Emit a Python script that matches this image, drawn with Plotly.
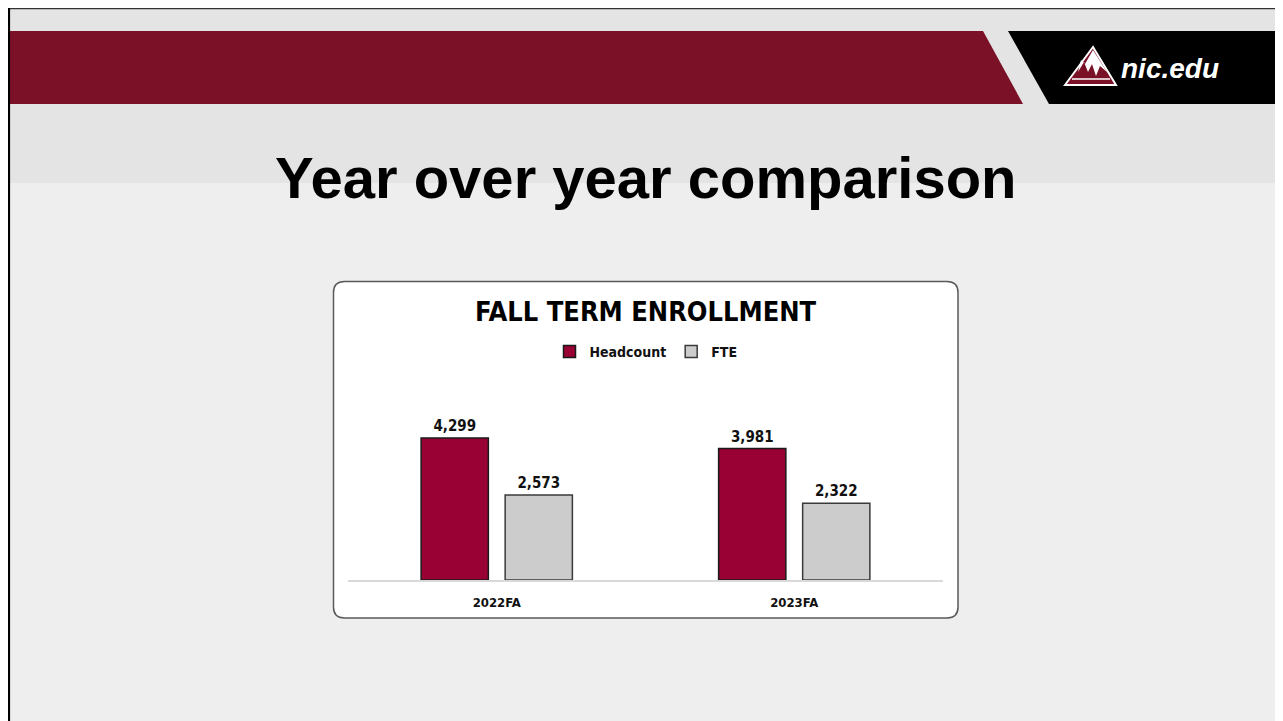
import plotly.graph_objects as go

# ---- data ----
categories = ["2022FA", "2023FA"]
headcount = [4299, 3981]
fte = [2573, 2322]
series_names = ["Headcount", "FTE"]
slide_title = "Year over year comparison"
chart_title = "FALL TERM ENROLLMENT"
logo_text = "nic.edu"

# the page body has an 8px margin: the figure starts at (8, 8) in the window
OFF = 8
W, H = 1283 - OFF, 721 - OFF
NARROW = "DejaVu Sans Condensed, Liberation Sans Narrow, Arial Narrow, Roboto, sans-serif"
ARIAL = "Liberation Sans, Arial, sans-serif"


def px(x):
    return (x - OFF) / W


def py(y):
    return 1 - (y - OFF) / H


def path(points, close=True):
    s = "M " + " L ".join(f"{px(x):.5f},{py(y):.5f}" for x, y in points)
    return s + (" Z" if close else "")


def rounded_rect(x0, y0, x1, y1, r):
    p = lambda x, y: f"{px(x):.5f},{py(y):.5f}"
    return (f"M {p(x0 + r, y0)} L {p(x1 - r, y0)} Q {p(x1, y0)} {p(x1, y0 + r)} "
            f"L {p(x1, y1 - r)} Q {p(x1, y1)} {p(x1 - r, y1)} "
            f"L {p(x0 + r, y1)} Q {p(x0, y1)} {p(x0, y1 - r)} "
            f"L {p(x0, y0 + r)} Q {p(x0, y0)} {p(x0 + r, y0)} Z")


fig = go.Figure()
fig.add_trace(go.Bar(
    name=f"<b>{series_names[0]}</b>", x=categories, y=headcount,
    marker=dict(color="#990033", line=dict(color="#1a1a1a", width=1.5)),
    texttemplate="<b>%{y:,}</b>", textposition="outside", cliponaxis=False,
    textfont=dict(family=NARROW, size=15, color="#111111"),
))
fig.add_trace(go.Bar(
    name=f"<b>{series_names[1]}</b>", x=categories, y=fte,
    marker=dict(color="#cccccc", line=dict(color="#3a3a3a", width=1.5)),
    texttemplate="<b>%{y:,}</b>", textposition="outside", cliponaxis=False,
    textfont=dict(family=NARROW, size=15, color="#111111"),
))

shapes = []
# slide backgrounds
shapes.append(dict(type="rect", xref="paper", yref="paper", x0=0, x1=1, y0=0, y1=1,
                   fillcolor="#eeeeee", line=dict(width=0), layer="below"))
shapes.append(dict(type="rect", xref="paper", yref="paper", x0=0, x1=1, y0=py(183), y1=1,
                   fillcolor="#e4e4e4", line=dict(width=0), layer="below"))
# red band
shapes.append(dict(type="path", xref="paper", yref="paper",
                   path=path([(8, 31), (983, 31), (1023, 104), (8, 104)]),
                   fillcolor="#7a1126", line=dict(width=0), layer="below"))
# black band
shapes.append(dict(type="path", xref="paper", yref="paper",
                   path=path([(1008, 31), (1283, 31), (1283, 104), (1049, 104)]),
                   fillcolor="#000000", line=dict(width=0), layer="below"))
# slide borders
shapes.append(dict(type="line", xref="paper", yref="paper", x0=0, x1=1, y0=py(8.6), y1=py(8.6),
                   line=dict(color="#333333", width=1.2), layer="below"))
shapes.append(dict(type="line", xref="paper", yref="paper", x0=px(9), x1=px(9), y0=1, y1=0,
                   line=dict(color="#000000", width=2.2), layer="below"))
# logo icon
shapes.append(dict(type="path", xref="paper", yref="paper",
                   path=path([(1065, 85), (1093, 47), (1116, 85)]),
                   fillcolor="#7a1126", line=dict(color="white", width=2), layer="above"))
shapes.append(dict(type="path", xref="paper", yref="paper",
                   path=path([(1093, 50), (1107, 72), (1100, 66), (1096, 76), (1092, 64),
                              (1088, 72), (1084, 62), (1078, 72), (1081, 60), (1085, 64)]),
                   fillcolor="white", line=dict(width=0), layer="above"))
shapes.append(dict(type="line", xref="paper", yref="paper", x0=px(1072), x1=px(1110),
                   y0=py(79), y1=py(79), line=dict(color="white", width=1.5), layer="above"))
# chart box
shapes.append(dict(type="path", xref="paper", yref="paper",
                   path=rounded_rect(333.5, 281.5, 958, 618, 11),
                   fillcolor="white", line=dict(color="#5a5a5a", width=1.5), layer="below"))

annotations = [
    dict(text=f"<b>{slide_title}</b>", xref="paper", yref="paper", x=px(646), y=py(177),
         xanchor="center", yanchor="middle", showarrow=False,
         font=dict(family=ARIAL, size=58, color="#000000")),
    dict(text=f"<b>{chart_title}</b>", xref="paper", yref="paper", x=px(646), y=py(311),
         xanchor="center", yanchor="middle", showarrow=False,
         font=dict(family=NARROW, size=27, color="#000000")),
    dict(text=f"<b><i>{logo_text}</i></b>", xref="paper", yref="paper", x=px(1119), y=py(68),
         xanchor="left", yanchor="middle", showarrow=False,
         font=dict(family=ARIAL, size=28, color="#ffffff")),
]

fig.update_layout(
    width=W, height=H,
    margin=dict(l=0, r=0, t=0, b=0),
    paper_bgcolor="#eeeeee",
    plot_bgcolor="rgba(0,0,0,0)",
    barmode="group", bargap=0.435, bargroupgap=0.2,
    shapes=shapes, annotations=annotations,
    showlegend=True,
    legend=dict(orientation="h", x=px(646), xanchor="center", y=py(352), yanchor="middle",
                font=dict(family=NARROW, size=14, color="#111111"),
                bgcolor="rgba(0,0,0,0)", itemwidth=30, traceorder="normal"),
    xaxis=dict(domain=[px(348), px(943)], showline=True, linecolor="#d9d9d9", linewidth=1.5,
               ticks="", showgrid=False, zeroline=False,
               tickfont=dict(family=NARROW, size=13, color="#111111"),
               ticklabelstandoff=10, tickprefix="<b>", ticksuffix="</b>", fixedrange=True),
    yaxis=dict(domain=[py(580), py(380)], range=[0, 6055], visible=False, fixedrange=True),
)

fig.write_html("out.html")
